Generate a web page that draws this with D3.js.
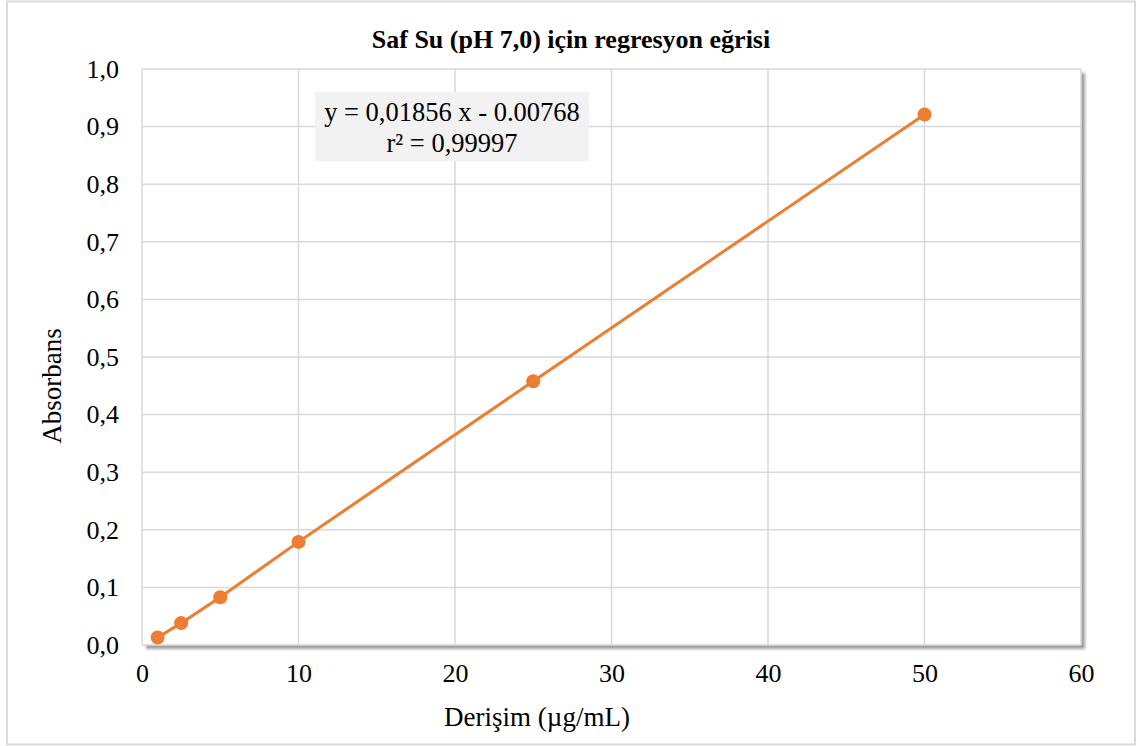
<!DOCTYPE html>
<html>
<head>
<meta charset="utf-8">
<script src="https://cdn.jsdelivr.net/npm/d3@7"></script>
<style>
  html, body { margin: 0; padding: 0; background: #fff; }
  svg text { font-family: "Liberation Serif", "Times New Roman", serif; fill: #000; }
</style>
</head>
<body>
<svg id="chart" width="1137" height="746"></svg>
<script>
// Calibration data: concentration (µg/mL) vs absorbance
const concentrations = [1, 2.5, 5, 10, 25, 50];
const absorbances = [0.013, 0.038, 0.083, 0.179, 0.458, 0.921];
const xTicks = [0, 10, 20, 30, 40, 50, 60];
const yTicks = [0, 0.1, 0.2, 0.3, 0.4, 0.5, 0.6, 0.7, 0.8, 0.9, 1.0];
const titleText = "Saf Su (pH 7,0) için regresyon eğrisi";
const xTitle = "Derişim (µg/mL)";
const yTitle = "Absorbans";
const equationLines = ["y = 0,01856 x - 0.00768", "r² = 0,99997"];

const W = 1137, H = 746;
const plot = { left: 142, top: 69, right: 1081, bottom: 645 };
const orange = "#ED7D31";
const gridColor = "#d9d9d9";

const svg = d3.select("#chart");

// outer frame
svg.append("rect")
  .attr("x", 7).attr("y", 1.5).attr("width", W - 9).attr("height", H - 3)
  .attr("fill", "#fff").attr("stroke", "#d9d9d9").attr("stroke-width", 2);

const defs = svg.append("defs");
const f = defs.append("filter").attr("id", "shadow")
  .attr("x", "-5%").attr("y", "-5%").attr("width", "115%").attr("height", "115%");
f.append("feDropShadow").attr("dx", 4).attr("dy", 4).attr("stdDeviation", 1.6)
  .attr("flood-color", "#000").attr("flood-opacity", 0.38);

const x = d3.scaleLinear().domain([0, 60]).range([plot.left, plot.right]);
const y = d3.scaleLinear().domain([0, 1]).range([plot.bottom, plot.top]);

// plot area with shadow
svg.append("rect")
  .attr("x", plot.left).attr("y", plot.top)
  .attr("width", plot.right - plot.left).attr("height", plot.bottom - plot.top)
  .attr("fill", "#fff").attr("filter", "url(#shadow)");

// gridlines
const grid = svg.append("g");
grid.selectAll("line.v").data(xTicks).join("line")
  .attr("x1", d => x(d)).attr("x2", d => x(d))
  .attr("y1", plot.top).attr("y2", plot.bottom)
  .attr("stroke", gridColor).attr("stroke-width", 1.5);
grid.selectAll("line.h").data(yTicks).join("line")
  .attr("x1", plot.left).attr("x2", plot.right)
  .attr("y1", d => y(d)).attr("y2", d => y(d))
  .attr("stroke", gridColor).attr("stroke-width", 1.5);

// axes (labels only)
const fmtY = d => d3.format(".1f")(d).replace(".", ",");
const yAxis = svg.append("g").attr("transform", `translate(${plot.left},0)`)
  .call(d3.axisLeft(y).tickValues(yTicks).tickFormat(fmtY).tickSize(0).tickPadding(23));
const xAxis = svg.append("g").attr("transform", `translate(0,${plot.bottom})`)
  .call(d3.axisBottom(x).tickValues(xTicks).tickFormat(d3.format("d")).tickSize(0).tickPadding(19));
[yAxis, xAxis].forEach(a => {
  a.select(".domain").remove();
  a.selectAll("text").attr("font-size", 26).attr("font-family", "Liberation Serif").attr("fill", "#000");
});

// series line and markers
const pts = concentrations.map((c, i) => [c, absorbances[i]]);
svg.append("path").datum(pts)
  .attr("d", d3.line().x(d => x(d[0])).y(d => y(d[1])))
  .attr("fill", "none").attr("stroke", orange).attr("stroke-width", 3);
svg.selectAll("circle.pt").data(pts).join("circle")
  .attr("cx", d => x(d[0])).attr("cy", d => y(d[1])).attr("r", 7)
  .attr("fill", orange);

// equation box
svg.append("rect").attr("x", 315).attr("y", 92).attr("width", 274).attr("height", 69)
  .attr("fill", "#f2f2f2");
svg.selectAll("text.eq").data(equationLines).join("text")
  .attr("x", 452).attr("y", (d, i) => 121 + i * 31)
  .attr("text-anchor", "middle").attr("font-size", 26.5).text(d => d);

// titles
svg.append("text").attr("x", 571).attr("y", 48).attr("text-anchor", "middle")
  .attr("font-size", 26).attr("font-weight", "bold").text(titleText);
svg.append("text").attr("x", 537).attr("y", 726).attr("text-anchor", "middle")
  .attr("font-size", 27).text(xTitle);
svg.append("text").attr("transform", "translate(61,386) rotate(-90)")
  .attr("text-anchor", "middle").attr("font-size", 27).text(yTitle);
</script>
</body>
</html>
